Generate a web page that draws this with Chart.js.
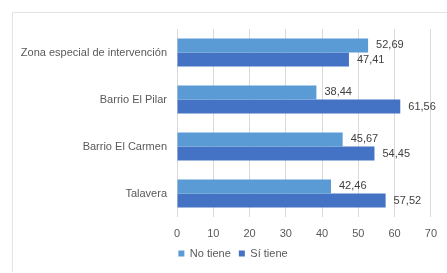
<!DOCTYPE html>
<html>
<head>
<meta charset="utf-8">
<script src="https://cdn.jsdelivr.net/npm/chart.js@4"></script>
<style>
  html, body { margin: 0; padding: 0; background: #fff; }
  #wrap { width: 447px; height: 273px; position: relative; }
</style>
</head>
<body>
<div id="wrap"><canvas id="chart" width="447" height="273"></canvas></div>
<script>
// --- data ---
const categories = ["Zona especial de intervención", "Barrio El Pilar", "Barrio El Carmen", "Talavera"];
const noTiene = [52.69, 38.44, 45.67, 42.46];
const siTiene = [47.41, 61.56, 54.45, 57.52];
const seriesNames = ["No tiene", "Sí tiene"];

const textColor = "#595959";
const fontFamily = "'Liberation Sans', Arial, sans-serif";

// frame around the chart (only left/top visible in the crop)
const framePlugin = {
    id: "frame",
    beforeDraw(chart) {
        const ctx = chart.ctx;
        ctx.save();
        ctx.strokeStyle = "#e3e3e3";
        ctx.lineWidth = 1;
        ctx.beginPath();
        ctx.moveTo(12.5, 272);
        ctx.lineTo(12.5, 12.5);
        ctx.lineTo(447, 12.5);
        ctx.stroke();
        ctx.restore();
    }
};

// legend sits a bit right of the canvas centre in the original
const legendShift = {
    id: "legendShift",
    afterLayout(chart) {
        chart.legend.left += 8;
        chart.legend.right += 8;
    }
};

// value labels at the end of each bar, with decimal comma
const valueLabels = {
    id: "valueLabels",
    afterDatasetsDraw(chart) {
        const ctx = chart.ctx;
        ctx.save();
        ctx.font = "11px " + fontFamily;
        ctx.fillStyle = "#404040";
        ctx.textAlign = "left";
        ctx.textBaseline = "middle";
        chart.data.datasets.forEach((ds, i) => {
            chart.getDatasetMeta(i).data.forEach((bar, j) => {
                const txt = ds.data[j].toFixed(2).replace(".", ",");
                ctx.fillText(txt, bar.x + 8, bar.y);
            });
        });
        ctx.restore();
    }
};

new Chart(document.getElementById("chart"), {
    type: "bar",
    data: {
        labels: categories,
        datasets: [
            { label: seriesNames[0], data: noTiene, backgroundColor: "#5B9BD5", categoryPercentage: 0.6, barPercentage: 1 },
            { label: seriesNames[1], data: siTiene, backgroundColor: "#4472C4", categoryPercentage: 0.6, barPercentage: 1 }
        ]
    },
    options: {
        indexAxis: "y",
        responsive: false,
        animation: false,
        layout: { padding: { left: 18, right: 15, top: 29, bottom: 4 } },
        scales: {
            x: {
                min: 0,
                max: 70,
                ticks: { stepSize: 10, padding: 10, color: textColor, font: { size: 11, family: fontFamily } },
                grid: { color: "#d9d9d9", drawTicks: false },
                border: { display: false },
                afterFit(scale) { scale.height = 23; }
            },
            y: {
                ticks: { padding: 10, color: textColor, font: { size: 11, family: fontFamily } },
                grid: { display: false, drawTicks: false },
                border: { display: false },
                afterFit(scale) { scale.width = 159; }
            }
        },
        plugins: {
            legend: {
                position: "bottom",
                labels: {
                    boxWidth: 6,
                    boxHeight: 6,
                    padding: 8,
                    color: textColor,
                    font: { size: 11, family: fontFamily }
                }
            },
            tooltip: { enabled: false }
        }
    },
    plugins: [framePlugin, legendShift, valueLabels]
});
</script>
</body>
</html>
